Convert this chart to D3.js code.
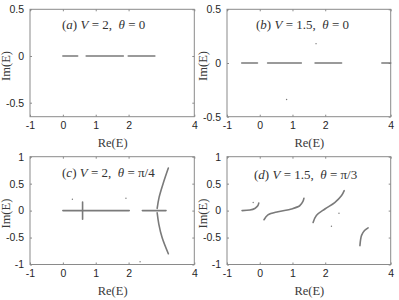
<!DOCTYPE html>
<html>
<head>
<meta charset="utf-8">
<script src="https://cdn.jsdelivr.net/npm/d3@7"></script>
<style>
  body { margin: 0; background: #fff; }
  svg { display: block; }
</style>
</head>
<body>
<svg id="chart" width="399" height="300"></svg>
<script>
// tick values (MATLAB skipped the 3 on the x axis)
const xTicks = [-1, 0, 1, 2, 4];
const yTicksTop = [-0.5, 0, 0.5];
const yTicksBottom = [-1, -0.5, 0, 0.5, 1];

// (a) V = 2, theta = 0 : spectrum on the real axis
const linesA = [
  [[0, 0], [0.45, 0]],
  [[0.71, 0], [1.84, 0]],
  [[1.99, 0], [2.80, 0]]
];
const dotsA = [];

// (b) V = 1.5, theta = 0
const linesB = [
  [[-0.55, 0], [-0.07, 0]],
  [[0.24, 0], [1.27, 0]],
  [[1.69, 0], [2.50, 0]],
  [[3.73, 0], [4.0, 0]]
];
const dotsB = [[1.72, 0.18], [0.82, -0.34]];

// (c) V = 2, theta = pi/4
const linesC = [
  [[0, 0], [2.02, 0]],
  [[0.6, -0.16], [0.6, 0.16]],
  [[2.42, 0], [3.14, 0]],
  [[3.21, 0.79], [3.05, 0.5], [2.93, 0.25], [2.87, 0.04]],
  [[2.87, -0.04], [2.92, -0.25], [3.02, -0.5], [3.21, -0.80]]
];
const dotsC = [[0.29, 0.21], [1.92, 0.23], [2.35, -0.95]];

// (d) V = 1.5, theta = pi/3
const linesD = [
  [[-0.54, 0], [-0.3, 0.01], [-0.15, 0.04], [-0.06, 0.09], [-0.03, 0.14]],
  [[0.13, -0.17], [0.25, -0.08], [0.56, -0.02], [0.97, 0.03], [1.22, 0.09], [1.32, 0.17], [1.35, 0.23]],
  [[1.63, -0.22], [1.73, -0.09], [1.99, 0.03], [2.29, 0.15], [2.50, 0.28], [2.58, 0.37]],
  [[3.06, -0.65], [3.11, -0.46], [3.20, -0.37], [3.31, -0.32]]
];
const dotsD = [[-0.2, 0.15], [2.42, -0.05], [2.19, -0.29]];

const panels = [
  { label: "a", V: "2", th: "0", lines: linesA, dots: dotsA, yDomain: [-0.65, 0.5], yTicks: yTicksTop,
    left: 30, right: 194.3, top: 9.3, bottom: 116.7, tx: 62, ty: 29 },
  { label: "b", V: "1.5", th: "0", lines: linesB, dots: dotsB, yDomain: [-0.5, 0.5], yTicks: yTicksTop,
    left: 227, right: 390.7, top: 9.3, bottom: 116.7, tx: 256, ty: 29 },
  { label: "c", V: "2", th: "π/4", lines: linesC, dots: dotsC, yDomain: [-1, 1], yTicks: yTicksBottom,
    left: 30, right: 194.3, top: 156.7, bottom: 264.5, tx: 62, ty: 177 },
  { label: "d", V: "1.5", th: "π/3", lines: linesD, dots: dotsD, yDomain: [-1, 1], yTicks: yTicksBottom,
    left: 227, right: 390.7, top: 156.7, bottom: 264.5, tx: 254, ty: 179 }
];

const svg = d3.select("#chart");
const axisColor = "#8a8a8a";
const dataColor = "#7a7a7a";
const textColor = "#262626";
const fmt = d => String(d); // plain hyphen minus, like MATLAB

panels.forEach(p => {
  const x = d3.scaleLinear().domain([-1, 4]).range([p.left, p.right]);
  const y = d3.scaleLinear().domain(p.yDomain).range([p.bottom, p.top]);
  const w = p.right - p.left, h = p.bottom - p.top;
  const g = svg.append("g");

  // box
  g.append("rect")
    .attr("x", p.left).attr("y", p.top)
    .attr("width", w).attr("height", h)
    .attr("fill", "none").attr("stroke", axisColor).attr("stroke-width", 1);

  // inward ticks on all four sides
  const tl = 2;
  g.append("g")
    .attr("transform", "translate(0," + p.bottom + ")")
    .call(d3.axisBottom(x).tickValues(xTicks).tickSize(-tl).tickPadding(5).tickFormat(fmt))
    .call(a => a.select(".domain").remove());
  g.append("g")
    .attr("transform", "translate(0," + p.top + ")")
    .call(d3.axisTop(x).tickValues(xTicks).tickSize(-tl).tickFormat(""))
    .call(a => a.select(".domain").remove());
  g.append("g")
    .attr("transform", "translate(" + p.left + ",0)")
    .call(d3.axisLeft(y).tickValues(p.yTicks).tickSize(-tl).tickPadding(6).tickFormat(fmt))
    .call(a => a.select(".domain").remove());
  g.append("g")
    .attr("transform", "translate(" + p.right + ",0)")
    .call(d3.axisRight(y).tickValues(p.yTicks).tickSize(-tl).tickFormat(""))
    .call(a => a.select(".domain").remove());

  g.selectAll(".tick line").attr("stroke", axisColor);
  g.selectAll(".tick text")
    .attr("fill", textColor)
    .style("font-family", "'Liberation Sans', Arial, sans-serif")
    .style("font-size", "10.5px");

  // axis titles
  g.append("text")
    .attr("x", (p.left + p.right) / 2 + 0.5).attr("y", p.bottom + 30)
    .attr("text-anchor", "middle")
    .attr("fill", "#3a3a3a")
    .style("font-family", "'Liberation Serif', serif").style("font-size", "12.5px")
    .text("Re(E)");
  g.append("text")
    .attr("transform", "translate(" + (p.left - 20) + "," + ((p.top + p.bottom) / 2 + 3) + ") rotate(-90)")
    .attr("text-anchor", "middle")
    .attr("fill", "#3a3a3a")
    .style("font-family", "'Liberation Serif', serif").style("font-size", "12.5px")
    .text("Im(E)");

  // data
  const line = d3.line()
    .x(d => x(d[0]))
    .y(d => y(d[1]))
    .curve(d3.curveCatmullRom);
  g.selectAll("path.spec")
    .data(p.lines)
    .enter().append("path")
    .attr("class", "spec")
    .attr("d", line)
    .attr("fill", "none")
    .attr("stroke", dataColor)
    .attr("stroke-width", 1.6)
    .attr("stroke-linecap", "round");
  g.selectAll("circle.dot")
    .data(p.dots)
    .enter().append("circle")
    .attr("class", "dot")
    .attr("cx", d => x(d[0])).attr("cy", d => y(d[1]))
    .attr("r", 0.7)
    .attr("fill", dataColor);

  // panel label in math style
  const t = g.append("text")
    .attr("x", p.tx).attr("y", p.ty)
    .attr("fill", "#333")
    .style("white-space", "pre")
    .style("font-family", "'Liberation Serif', serif").style("font-size", "13px");
  t.append("tspan").text("(");
  t.append("tspan").style("font-style", "italic").text(p.label);
  t.append("tspan").text(") ");
  t.append("tspan").style("font-style", "italic").text("V");
  t.append("tspan").text(" = " + p.V + ",\u00a0\u00a0");
  t.append("tspan").style("font-style", "italic").text("θ");
  t.append("tspan").text(" = " + p.th);
});
</script>
</body>
</html>
